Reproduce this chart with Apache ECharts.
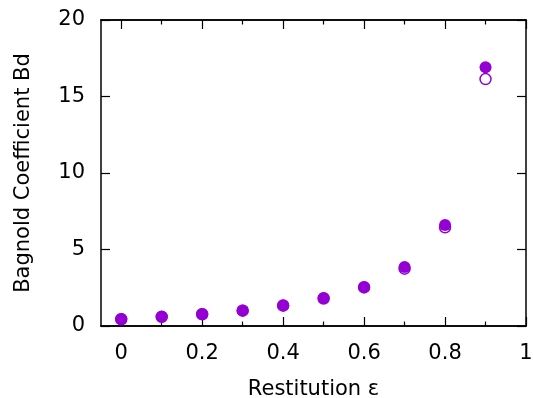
<!DOCTYPE html>
<html>
<head>
<meta charset="utf-8">
<script src="https://cdn.jsdelivr.net/npm/echarts@6/dist/echarts.min.js"></script>
<style>html,body{margin:0;padding:0;background:#fff}#c{width:533px;height:398px}</style>
</head>
<body>
<div id="c"></div>
<script>
const epsilon = [0, 0.1, 0.2, 0.3, 0.4, 0.5, 0.6, 0.7, 0.8, 0.9];
const bdFilled = [0.46, 0.61, 0.78, 1.02, 1.35, 1.83, 2.55, 3.85, 6.6, 16.91];
const bdOpen = [0.44, 0.60, 0.77, 1.00, 1.33, 1.80, 2.52, 3.75, 6.45, 16.14];
const xMajorTicks = [0, 0.2, 0.4, 0.6, 0.8, 1];
const xMinorTicks = [0.1, 0.3, 0.5, 0.7, 0.9];
const yTicks = [0, 5, 10, 15, 20];

const FONT = 'DejaVu Sans';
const COLOR = '#9400D3';
const FS = 21;

function xAxisDef(pos, values, len, showLabel, name) {
  return {
    type: 'value', position: pos, min: -0.05, max: 1,
    name: name || '', nameLocation: 'middle', nameGap: 53,
    nameTextStyle: {fontFamily: FONT, fontSize: FS, color: '#000'},
    axisLine: {show: true, onZero: false, lineStyle: {color: '#000', width: 1.5}},
    axisTick: {show: true, inside: true, length: len, customValues: values, lineStyle: {color: '#000', width: 1.2}},
    axisLabel: {show: showLabel, customValues: values, margin: 17, fontFamily: FONT, fontSize: FS, color: '#000',
      formatter: v => String(Math.round(v * 10) / 10)},
    splitLine: {show: false}
  };
}
function yAxisDef(pos, showLabel, name) {
  return {
    type: 'value', position: pos, min: 0, max: 20,
    name: name || '', nameLocation: 'middle', nameGap: 67,
    nameTextStyle: {fontFamily: FONT, fontSize: FS, color: '#000'},
    axisLine: {show: true, onZero: false, lineStyle: {color: '#000', width: 1.5}},
    axisTick: {show: true, inside: true, length: 9, customValues: yTicks, lineStyle: {color: '#000', width: 1.2}},
    axisLabel: {show: showLabel, customValues: yTicks, margin: 16, fontFamily: FONT, fontSize: FS, color: '#000'},
    splitLine: {show: false}
  };
}

const chart = echarts.init(document.getElementById('c'), null, {renderer: 'canvas'});
chart.setOption({
  animation: false,
  backgroundColor: '#fff',
  grid: {left: 101, right: 7, top: 20, bottom: 72, show: false, containLabel: false, outerBoundsMode: 'none'},
  xAxis: [
    xAxisDef('bottom', xMajorTicks, 9, true, 'Restitution ε'),
    xAxisDef('bottom', xMinorTicks, 4.5, false),
    xAxisDef('top', xMajorTicks, 9, false),
    xAxisDef('top', xMinorTicks, 4.5, false)
  ],
  yAxis: [
    yAxisDef('left', true, 'Bagnold Coefficient Bd'),
    yAxisDef('right', false)
  ],
  series: [
    {
      type: 'scatter', xAxisIndex: 0, yAxisIndex: 0,
      data: epsilon.map((e, i) => [e, bdOpen[i]]),
      symbol: 'circle', symbolSize: 11,
      itemStyle: {color: 'rgba(0,0,0,0)', borderColor: COLOR, borderWidth: 1.5, opacity: 1}
    },
    {
      type: 'scatter', xAxisIndex: 0, yAxisIndex: 0,
      data: epsilon.map((e, i) => [e, bdFilled[i]]),
      symbol: 'circle', symbolSize: 12,
      itemStyle: {color: COLOR, opacity: 1}
    }
  ]
});
</script>
</body>
</html>
